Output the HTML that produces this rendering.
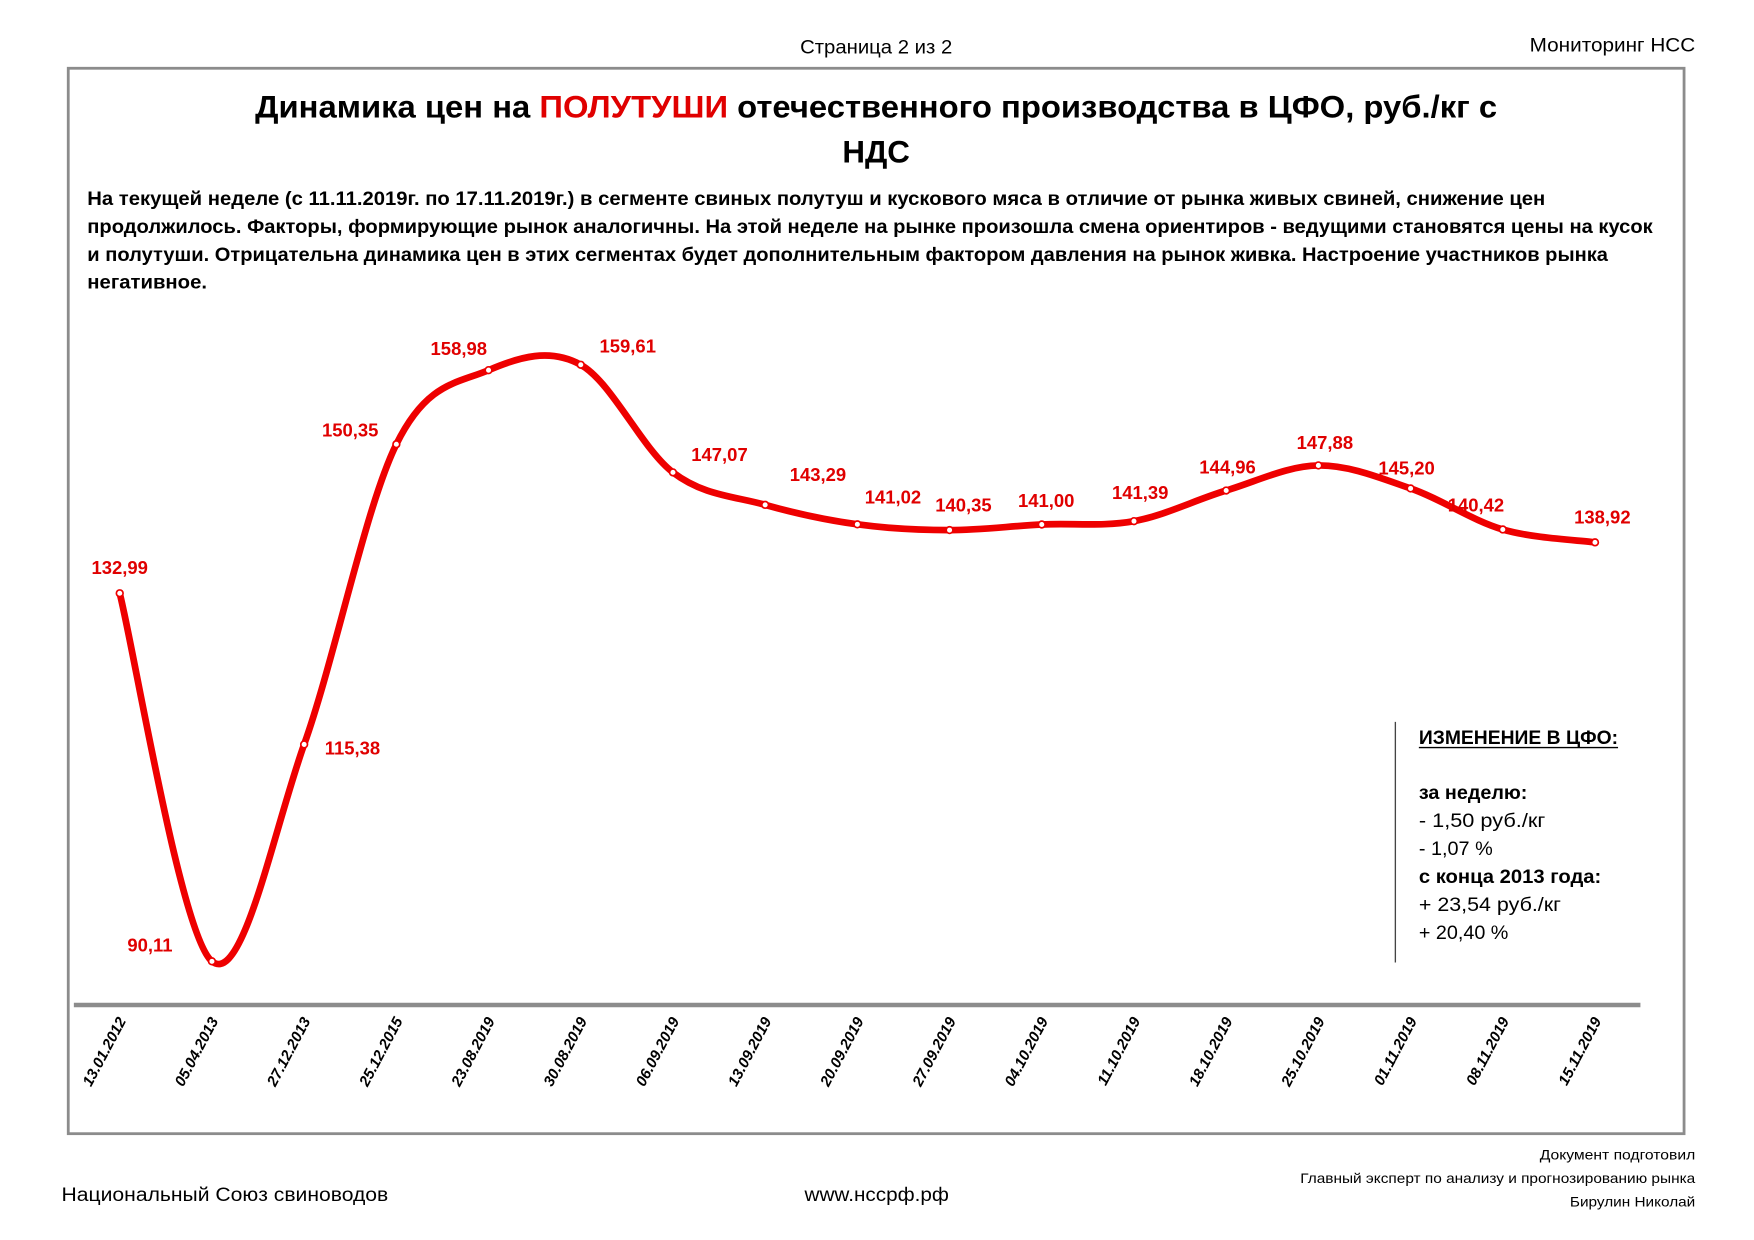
<!DOCTYPE html>
<html><head><meta charset="utf-8"><style>
html,body{margin:0;padding:0;background:#fff;}
svg{display:block;}
text{font-family:"Liberation Sans","DejaVu Sans",sans-serif;}
</style></head><body>
<svg id="s" width="1754" height="1240" viewBox="0 0 1567.5 1108" preserveAspectRatio="none" xmlns="http://www.w3.org/2000/svg">
<rect x="0" y="0" width="1568" height="1108" fill="#fff"/>
<text x="715" y="48" font-size="17" textLength="136" lengthAdjust="spacingAndGlyphs">Страница 2 из 2</text>
<text x="1367" y="46" font-size="17" textLength="148" lengthAdjust="spacingAndGlyphs">Мониторинг НСС</text>
<rect x="61" y="61" width="1444" height="952" fill="none" stroke="#8c8c8c" stroke-width="2.5"/>
<text x="228" y="105" font-size="28" font-weight="bold" textLength="1110" lengthAdjust="spacingAndGlyphs">Динамика цен на <tspan fill="#e00000">ПОЛУТУШИ</tspan> отечественного производства в ЦФО, руб./кг с</text>
<text x="783" y="145" font-size="28" font-weight="bold" text-anchor="middle">НДС</text>
<g font-size="17" font-weight="bold">
<text x="78" y="183" textLength="1303" lengthAdjust="spacingAndGlyphs">На текущей неделе (с 11.11.2019г. по 17.11.2019г.) в сегменте свиных полутуш и кускового мяса в отличие от рынка живых свиней, снижение цен</text>
<text x="78" y="208" textLength="1399" lengthAdjust="spacingAndGlyphs">продолжилось. Факторы, формирующие рынок аналогичны. На этой неделе на рынке произошла смена ориентиров - ведущими становятся цены на кусок</text>
<text x="78" y="233" textLength="1359" lengthAdjust="spacingAndGlyphs">и полутуши. Отрицательна динамика цен в этих сегментах будет дополнительным фактором давления на рынок живка. Настроение участников рынка</text>
<text x="78" y="258" textLength="107" lengthAdjust="spacingAndGlyphs">негативное.</text>
</g>
<line x1="66" y1="898" x2="1466" y2="898" stroke="#8c8c8c" stroke-width="4"/>
<path id="curve" fill="none" stroke="#ee0000" stroke-width="6" stroke-linejoin="round"/>
<g id="marks"></g>
<g id="ticks" font-size="13.5" font-weight="bold" font-style="italic"></g>
<g font-size="16.5" font-weight="bold" fill="#e00000" text-anchor="middle">
<text x="107" y="513">132,99</text>
<text x="134" y="850">90,11</text>
<text x="315" y="674">115,38</text>
<text x="313" y="390">150,35</text>
<text x="410" y="317">158,98</text>
<text x="561" y="315">159,61</text>
<text x="643" y="412">147,07</text>
<text x="731" y="430">143,29</text>
<text x="798" y="450">141,02</text>
<text x="861" y="457">140,35</text>
<text x="935" y="453">141,00</text>
<text x="1019" y="446">141,39</text>
<text x="1097" y="423">144,96</text>
<text x="1184" y="401">147,88</text>
<text x="1257" y="424">145,20</text>
<text x="1319" y="457">140,42</text>
<text x="1432" y="468">138,92</text>
</g>
<line x1="1247" y1="645" x2="1247" y2="860" stroke="#444" stroke-width="1.2"/>
<g font-size="17">
<text x="1268" y="665" font-weight="bold" textLength="178" lengthAdjust="spacingAndGlyphs">ИЗМЕНЕНИЕ В ЦФО:</text>
<line x1="1268" y1="668" x2="1446" y2="668" stroke="#000" stroke-width="1.2"/>
<text x="1268" y="714" font-weight="bold" textLength="97" lengthAdjust="spacingAndGlyphs">за неделю:</text>
<text x="1268" y="739" textLength="113" lengthAdjust="spacingAndGlyphs">- 1,50 руб./кг</text>
<text x="1268" y="764" textLength="66" lengthAdjust="spacingAndGlyphs">- 1,07 %</text>
<text x="1268" y="789" font-weight="bold" textLength="163" lengthAdjust="spacingAndGlyphs">с конца 2013 года:</text>
<text x="1268" y="814" textLength="127" lengthAdjust="spacingAndGlyphs">+ 23,54 руб./кг</text>
<text x="1268" y="839" textLength="80" lengthAdjust="spacingAndGlyphs">+ 20,40 %</text>
</g>
<text x="55" y="1073" font-size="17" textLength="292" lengthAdjust="spacingAndGlyphs">Национальный Союз свиноводов</text>
<text x="719" y="1073" font-size="17" textLength="129" lengthAdjust="spacingAndGlyphs">www.нсcpф.рф</text>
<g font-size="12">
<text x="1376" y="1036" textLength="139" lengthAdjust="spacingAndGlyphs">Документ подготовил</text>
<text x="1162" y="1057" textLength="353" lengthAdjust="spacingAndGlyphs">Главный эксперт по анализу и прогнозированию рынка</text>
<text x="1403" y="1078" textLength="112" lengthAdjust="spacingAndGlyphs">Бирулин Николай</text>
</g>
</svg>
<script>
var vals=[132.99,90.11,115.38,150.35,158.98,159.61,147.07,143.29,141.02,140.35,141.00,141.39,144.96,147.88,145.20,140.42,138.92];
var dates=["13.01.2012","05.04.2013","27.12.2013","25.12.2015","23.08.2019","30.08.2019","06.09.2019","13.09.2019","20.09.2019","27.09.2019","04.10.2019","11.10.2019","18.10.2019","25.10.2019","01.11.2019","08.11.2019","15.11.2019"];
var P=vals.map(function(v,i){return [107+i*82.4, 859-(v-90.11)*7.67];});
var d="M"+P[0][0]+","+P[0][1];
for(var i=0;i<P.length-1;i++){
 var p0=P[i-1]||P[i],p1=P[i],p2=P[i+1],p3=P[i+2]||P[i+1];
 var t=1/6;
 d+=" C"+(p1[0]+(p2[0]-p0[0])*t)+","+(p1[1]+(p2[1]-p0[1])*t)+" "+(p2[0]-(p3[0]-p1[0])*t)+","+(p2[1]-(p3[1]-p1[1])*t)+" "+p2[0]+","+p2[1];
}
document.getElementById("curve").setAttribute("d",d);
var ns="http://www.w3.org/2000/svg",m=document.getElementById("marks"),tk=document.getElementById("ticks");
P.forEach(function(p,i){
 var c=document.createElementNS(ns,"circle");c.setAttribute("cx",p[0]);c.setAttribute("cy",p[1]);c.setAttribute("r",3);
 c.setAttribute("fill","#fff");c.setAttribute("stroke","#ee0000");c.setAttribute("stroke-width",1.5);m.appendChild(c);
 var t=document.createElementNS(ns,"text");var x=p[0]+6,y=912;
 t.setAttribute("x",x);t.setAttribute("y",y);t.setAttribute("text-anchor","end");
 t.setAttribute("transform","rotate(-62 "+x+" "+y+")");t.textContent=dates[i];tk.appendChild(t);
});
</script>
</body></html>
